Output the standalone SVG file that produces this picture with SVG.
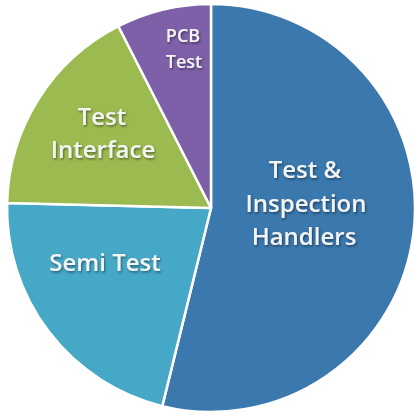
<svg xmlns="http://www.w3.org/2000/svg" width="414" height="416" viewBox="0 0 414 416">
  <defs>
    <filter id="shadow" x="-20%" y="-40%" width="140%" height="180%">
      <feDropShadow dx="1" dy="1.5" stdDeviation="1" flood-color="#000" flood-opacity="0.45"/>
    </filter>
    <style>
      .slice { stroke: #ffffff; stroke-width: 2.5; stroke-linejoin: round; }
      .label { fill: #f4f4f4; font-family: "Open Sans", "DejaVu Sans", sans-serif; font-weight: 600; text-anchor: middle; filter: url(#shadow); }
      .big { font-size: 24px; }
      .small { font-size: 18px; }
    </style>
  </defs>
  <rect width="414" height="416" fill="#ffffff"/>

  <g id="handlers">
    <path class="slice" fill="#3A78AD" d="M211,208 L211,4 A204,204 0 1 1 162.3,406.1 Z"/>
    <text class="label big" x="305" y="178">Test &amp;</text>
    <text class="label big" x="306" y="212">Inspection</text>
    <text class="label big" x="304" y="245">Handlers</text>
  </g>

  <g id="semi-test">
    <path class="slice" fill="#45A8C6" d="M211,208 L162.3,406.1 A204,204 0 0 1 7.1,203 Z"/>
    <text class="label big" x="105" y="271">Semi Test</text>
  </g>

  <g id="test-interface">
    <path class="slice" fill="#9BBB50" d="M211,208 L7.1,203 A204,204 0 0 1 118.4,26.2 Z"/>
    <text class="label big" x="102" y="125">Test</text>
    <text class="label big" x="103" y="158">Interface</text>
  </g>

  <g id="pcb-test">
    <path class="slice" fill="#7E60A8" d="M211,208 L118.4,26.2 A204,204 0 0 1 211,4 Z"/>
    <text class="label small" x="183" y="42">PCB</text>
    <text class="label small" x="184" y="68">Test</text>
  </g>
</svg>
